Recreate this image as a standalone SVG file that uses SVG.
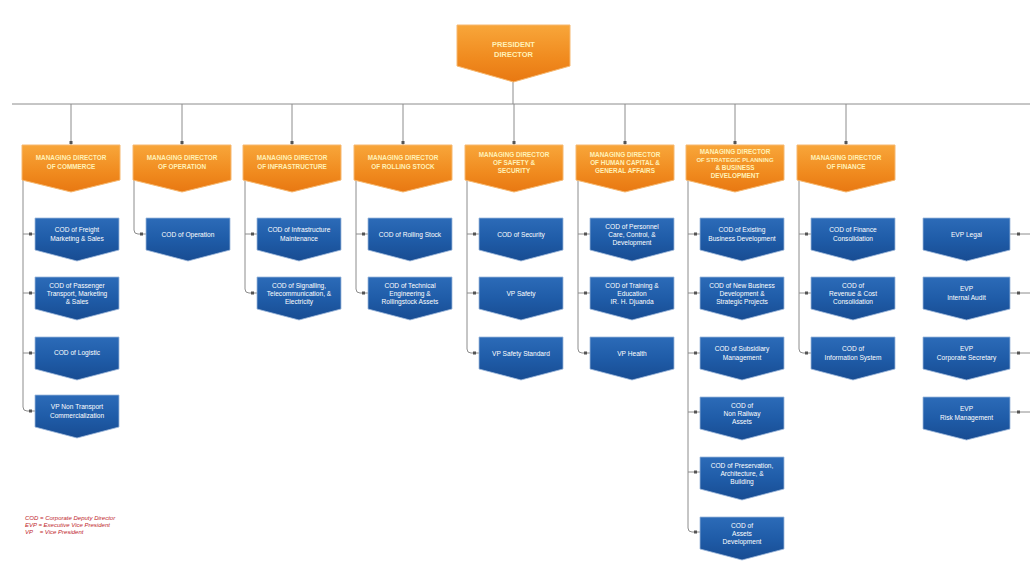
<svg xmlns="http://www.w3.org/2000/svg" width="1030" height="563" viewBox="0 0 1030 563">
<defs>
<linearGradient id="og" x1="0" y1="0" x2="0" y2="1">
<stop offset="0" stop-color="#F8A63A"/><stop offset="0.6" stop-color="#F08A1E"/><stop offset="1" stop-color="#E87812"/>
</linearGradient>
<linearGradient id="bg" x1="0" y1="0" x2="0" y2="1">
<stop offset="0" stop-color="#2C6BB8"/><stop offset="0.5" stop-color="#1F5CA8"/><stop offset="1" stop-color="#184C92"/>
</linearGradient>
<path id="hdr" d="M0,0 H98 V35 L49,47 L0,35 Z"/>
<path id="blu" d="M0,0 H84 V32 L42,43 L0,32 Z"/>
<path id="blu2" d="M0,0 H87 V32 L43.5,43 L0,32 Z"/>
<style>
.h{fill:url(#og);stroke:#F6B870;stroke-width:1}
.b{fill:url(#bg);stroke:#9DB8DA;stroke-width:0.8}
.ht{font-family:"Liberation Sans",Arial,sans-serif;font-size:6.4px;font-weight:bold;fill:#FFF1B8;text-anchor:middle}
.bt{font-family:"Liberation Sans",Arial,sans-serif;font-size:6.6px;fill:#FFFFFF;text-anchor:middle}
.ln{stroke:#8C8C8C;stroke-width:1;fill:none}
.dt{fill:#555}
.lg{font-family:"Liberation Sans",Arial,sans-serif;font-size:6px;font-style:italic;fill:#C0262B}
</style>
</defs>
<rect width="1030" height="563" fill="#FFFFFF"/>

<g id="connectors">
<path class="ln" d="M513,82 V104 M12,104 H1030"/>
<path class="ln" d="M71,104 V145 M182,104 V145 M292,104 V145 M403,104 V145 M514,104 V145 M625,104 V145 M735,104 V145 M846,104 V145"/>
<!-- col1 -->
<path class="ln" d="M23,180 V407 Q23,411 27,411 H35 M23,234 H35 M23,293 H35 M23,353 H35"/>
<!-- col2 -->
<path class="ln" d="M134,180 V230 Q134,234 138,234 H146"/>
<!-- col3 -->
<path class="ln" d="M245,180 V289 Q245,293 249,293 H257 M245,234 H257"/>
<!-- col4 -->
<path class="ln" d="M356,180 V289 Q356,293 360,293 H368 M356,234 H368"/>
<!-- col5 -->
<path class="ln" d="M467,180 V349 Q467,353 471,353 H479 M467,234 H479 M467,293 H479"/>
<!-- col6 -->
<path class="ln" d="M578,180 V349 Q578,353 582,353 H590 M578,234 H590 M578,293 H590"/>
<!-- col7 -->
<path class="ln" d="M688,180 V528 Q688,532 692,532 H700 M688,234 H700 M688,293 H700 M688,353 H700 M688,412 H700 M688,472 H700"/>
<!-- col8 -->
<path class="ln" d="M799,180 V349 Q799,353 803,353 H811 M799,234 H811 M799,293 H811"/>
<!-- col9 (right) -->
<path class="ln" d="M1010,234 H1030 M1010,293 H1030 M1010,353 H1030 M1010,412 H1030"/>
<g class="dt">
<rect x="69.5" y="141" width="3" height="3"/><rect x="180.5" y="141" width="3" height="3"/><rect x="290.5" y="141" width="3" height="3"/><rect x="401.5" y="141" width="3" height="3"/><rect x="512.5" y="141" width="3" height="3"/><rect x="623.5" y="141" width="3" height="3"/><rect x="733.5" y="141" width="3" height="3"/><rect x="844.5" y="141" width="3" height="3"/>
<rect x="29" y="232.5" width="3" height="3"/><rect x="29" y="291.5" width="3" height="3"/><rect x="29" y="351.5" width="3" height="3"/><rect x="29" y="409.5" width="3" height="3"/>
<rect x="140" y="232.5" width="3" height="3"/>
<rect x="251" y="232.5" width="3" height="3"/><rect x="251" y="291.5" width="3" height="3"/>
<rect x="362" y="232.5" width="3" height="3"/><rect x="362" y="291.5" width="3" height="3"/>
<rect x="473" y="232.5" width="3" height="3"/><rect x="473" y="291.5" width="3" height="3"/><rect x="473" y="351.5" width="3" height="3"/>
<rect x="584" y="232.5" width="3" height="3"/><rect x="584" y="291.5" width="3" height="3"/><rect x="584" y="351.5" width="3" height="3"/>
<rect x="694" y="232.5" width="3" height="3"/><rect x="694" y="291.5" width="3" height="3"/><rect x="694" y="351.5" width="3" height="3"/><rect x="694" y="410.5" width="3" height="3"/><rect x="694" y="470.5" width="3" height="3"/><rect x="694" y="530.5" width="3" height="3"/>
<rect x="805" y="232.5" width="3" height="3"/><rect x="805" y="291.5" width="3" height="3"/><rect x="805" y="351.5" width="3" height="3"/>
<rect x="1017" y="232.5" width="3" height="3"/><rect x="1017" y="291.5" width="3" height="3"/><rect x="1017" y="351.5" width="3" height="3"/><rect x="1017" y="410.5" width="3" height="3"/>
</g>
</g>

<g id="president">
<path class="h" d="M457,25 H570 V66 L513.5,82 L457,66 Z"/>
<text class="ht" x="513.5" y="47" style="font-size:7.5px">PRESIDENT</text>
<text class="ht" x="513.5" y="57" style="font-size:7.5px">DIRECTOR</text>
</g>

<g id="md-commerce"><use href="#hdr" class="h" x="22" y="145"/>
<text class="ht" x="71" y="160">MANAGING DIRECTOR</text><text class="ht" x="71" y="169">OF COMMERCE</text></g>
<g id="md-operation"><use href="#hdr" class="h" x="133" y="145"/>
<text class="ht" x="182" y="160">MANAGING DIRECTOR</text><text class="ht" x="182" y="169">OF OPERATION</text></g>
<g id="md-infrastructure"><use href="#hdr" class="h" x="243" y="145"/>
<text class="ht" x="292" y="160">MANAGING DIRECTOR</text><text class="ht" x="292" y="169">OF INFRASTRUCTURE</text></g>
<g id="md-rolling"><use href="#hdr" class="h" x="354" y="145"/>
<text class="ht" x="403" y="160">MANAGING DIRECTOR</text><text class="ht" x="403" y="169">OF ROLLING STOCK</text></g>
<g id="md-safety"><use href="#hdr" class="h" x="465" y="145"/>
<text class="ht" x="514" y="157">MANAGING DIRECTOR</text><text class="ht" x="514" y="165">OF SAFETY &amp;</text><text class="ht" x="514" y="173">SECURITY</text></g>
<g id="md-human"><use href="#hdr" class="h" x="576" y="145"/>
<text class="ht" x="625" y="157">MANAGING DIRECTOR</text><text class="ht" x="625" y="165">OF HUMAN CAPITAL &amp;</text><text class="ht" x="625" y="173">GENERAL AFFAIRS</text></g>
<g id="md-strategic"><use href="#hdr" class="h" x="686" y="145"/>
<text class="ht" x="735" y="154">MANAGING DIRECTOR</text><text class="ht" x="735" y="162" style="font-size:6px">OF STRATEGIC PLANNING</text><text class="ht" x="735" y="170">&amp; BUSINESS</text><text class="ht" x="735" y="178">DEVELOPMENT</text></g>
<g id="md-finance"><use href="#hdr" class="h" x="797" y="145"/>
<text class="ht" x="846" y="160">MANAGING DIRECTOR</text><text class="ht" x="846" y="169">OF FINANCE</text></g>

<!-- column 1 -->
<g id="cod-freight"><use href="#blu" class="b" x="35" y="218"/>
<text class="bt" x="77" y="232">COD of Freight</text><text class="bt" x="77" y="241">Marketing &amp; Sales</text></g>
<g id="cod-passenger"><use href="#blu" class="b" x="35" y="277"/>
<text class="bt" x="77" y="288">COD of Passenger</text><text class="bt" x="77" y="296">Transport, Marketing</text><text class="bt" x="77" y="304">&amp; Sales</text></g>
<g id="cod-logistic"><use href="#blu" class="b" x="35" y="337"/>
<text class="bt" x="77" y="355">COD of Logistic</text></g>
<g id="vp-nontransport"><use href="#blu" class="b" x="35" y="395"/>
<text class="bt" x="77" y="409">VP Non Transport</text><text class="bt" x="77" y="418">Commercialization</text></g>
<!-- column 2 -->
<g id="cod-operation"><use href="#blu" class="b" x="146" y="218"/>
<text class="bt" x="188" y="237">COD of Operation</text></g>
<!-- column 3 -->
<g id="cod-infra"><use href="#blu" class="b" x="257" y="218"/>
<text class="bt" x="299" y="232">COD of Infrastructure</text><text class="bt" x="299" y="241">Maintenance</text></g>
<g id="cod-signalling"><use href="#blu" class="b" x="257" y="277"/>
<text class="bt" x="299" y="288">COD of Signalling,</text><text class="bt" x="299" y="296">Telecommunication, &amp;</text><text class="bt" x="299" y="304">Electricity</text></g>
<!-- column 4 -->
<g id="cod-rolling"><use href="#blu" class="b" x="368" y="218"/>
<text class="bt" x="410" y="237">COD of Rolling Stock</text></g>
<g id="cod-technical"><use href="#blu" class="b" x="368" y="277"/>
<text class="bt" x="410" y="288">COD of Technical</text><text class="bt" x="410" y="296">Engineering &amp;</text><text class="bt" x="410" y="304">Rollingstock Assets</text></g>
<!-- column 5 -->
<g id="cod-security"><use href="#blu" class="b" x="479" y="218"/>
<text class="bt" x="521" y="237">COD of Security</text></g>
<g id="vp-safety"><use href="#blu" class="b" x="479" y="277"/>
<text class="bt" x="521" y="296">VP Safety</text></g>
<g id="vp-safety-standard"><use href="#blu" class="b" x="479" y="337"/>
<text class="bt" x="521" y="356">VP Safety Standard</text></g>
<!-- column 6 -->
<g id="cod-personnel"><use href="#blu" class="b" x="590" y="218"/>
<text class="bt" x="632" y="229">COD of Personnel</text><text class="bt" x="632" y="237">Care, Control, &amp;</text><text class="bt" x="632" y="245">Development</text></g>
<g id="cod-training"><use href="#blu" class="b" x="590" y="277"/>
<text class="bt" x="632" y="288">COD of Training &amp;</text><text class="bt" x="632" y="296">Education</text><text class="bt" x="632" y="304">IR. H. Djuanda</text></g>
<g id="vp-health"><use href="#blu" class="b" x="590" y="337"/>
<text class="bt" x="632" y="356">VP Health</text></g>
<!-- column 7 -->
<g id="cod-existing"><use href="#blu" class="b" x="700" y="218"/>
<text class="bt" x="742" y="232">COD of Existing</text><text class="bt" x="742" y="241">Business Development</text></g>
<g id="cod-newbusiness"><use href="#blu" class="b" x="700" y="277"/>
<text class="bt" x="742" y="288">COD of New Business</text><text class="bt" x="742" y="296">Development &amp;</text><text class="bt" x="742" y="304">Strategic Projects</text></g>
<g id="cod-subsidiary"><use href="#blu" class="b" x="700" y="337"/>
<text class="bt" x="742" y="351">COD of Subsidiary</text><text class="bt" x="742" y="360">Management</text></g>
<g id="cod-nonrailway"><use href="#blu" class="b" x="700" y="397"/>
<text class="bt" x="742" y="408">COD of</text><text class="bt" x="742" y="416">Non Railway</text><text class="bt" x="742" y="424">Assets</text></g>
<g id="cod-preservation"><use href="#blu" class="b" x="700" y="457"/>
<text class="bt" x="742" y="468">COD of Preservation,</text><text class="bt" x="742" y="476">Architecture, &amp;</text><text class="bt" x="742" y="484">Building</text></g>
<g id="cod-assets"><use href="#blu" class="b" x="700" y="517"/>
<text class="bt" x="742" y="528">COD of</text><text class="bt" x="742" y="536">Assets</text><text class="bt" x="742" y="544">Development</text></g>
<!-- column 8 -->
<g id="cod-finance"><use href="#blu" class="b" x="811" y="218"/>
<text class="bt" x="853" y="232">COD of Finance</text><text class="bt" x="853" y="241">Consolidation</text></g>
<g id="cod-revenue"><use href="#blu" class="b" x="811" y="277"/>
<text class="bt" x="853" y="288">COD of</text><text class="bt" x="853" y="296">Revenue &amp; Cost</text><text class="bt" x="853" y="304">Consolidation</text></g>
<g id="cod-infosys"><use href="#blu" class="b" x="811" y="337"/>
<text class="bt" x="853" y="351">COD of</text><text class="bt" x="853" y="360">Information System</text></g>
<!-- column 9 -->
<g id="evp-legal"><use href="#blu2" class="b" x="923" y="218"/>
<text class="bt" x="966.5" y="237">EVP Legal</text></g>
<g id="evp-audit"><use href="#blu2" class="b" x="923" y="277"/>
<text class="bt" x="966.5" y="291">EVP</text><text class="bt" x="966.5" y="300">Internal Audit</text></g>
<g id="evp-corsec"><use href="#blu2" class="b" x="923" y="337"/>
<text class="bt" x="966.5" y="351">EVP</text><text class="bt" x="966.5" y="360">Corporate Secretary</text></g>
<g id="evp-risk"><use href="#blu2" class="b" x="923" y="397"/>
<text class="bt" x="966.5" y="411">EVP</text><text class="bt" x="966.5" y="420">Risk Management</text></g>

<g id="legend">
<text class="lg" x="25" y="520">COD = Corporate Deputy Director</text>
<text class="lg" x="25" y="527">EVP = Executive Vice President</text>
<text class="lg" x="25" y="534">VP&#160;&#160;&#160;&#160;= Vice President</text>
</g>
</svg>
